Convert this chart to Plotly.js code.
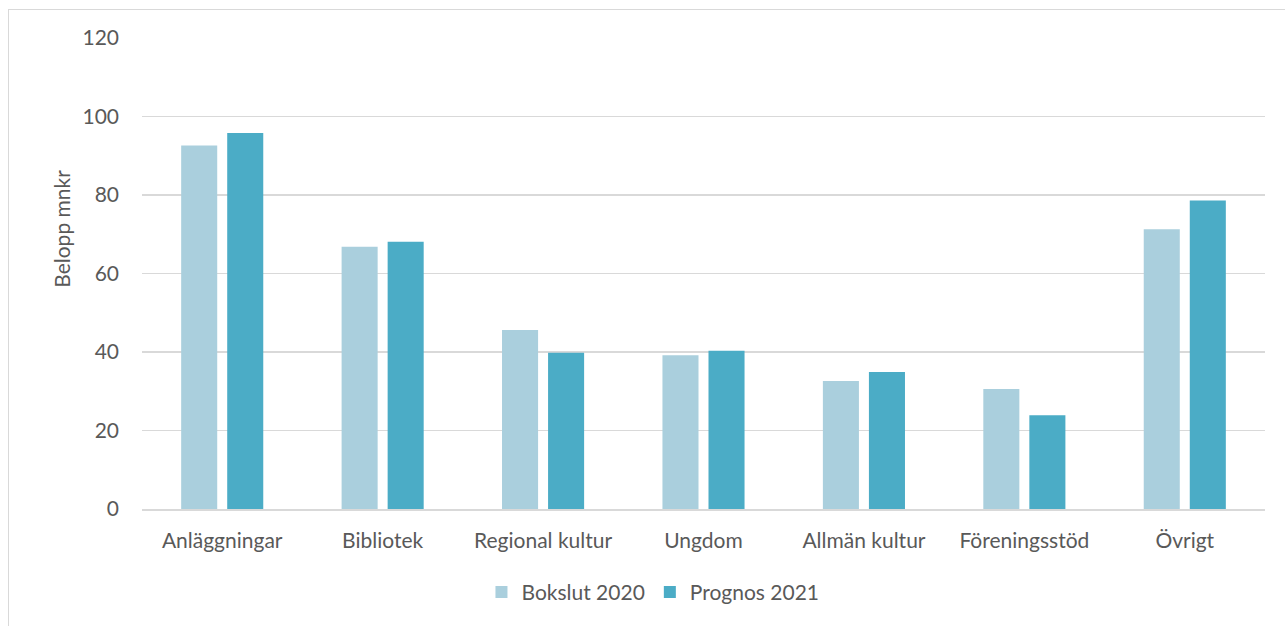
<!DOCTYPE html>
<html>
<head>
<meta charset="utf-8">
<script src="https://cdn.plot.ly/plotly-3.0.1.min.js"></script>
<style>
  html, body { margin: 0; padding: 0; background: #ffffff; overflow: hidden; }
  #frame { position: absolute; left: 8px; top: 9px; width: 1400px; height: 800px;
           border-left: 1.5px solid #d9d9d9; border-top: 1.5px solid #d9d9d9; }
  #chart { position: absolute; left: 0; top: 0; width: 1285px; height: 626px; }
</style>
</head>
<body>
<div id="frame"></div>
<div id="chart"></div>
<script>
const categories = ["Anläggningar", "Bibliotek", "Regional kultur", "Ungdom", "Allmän kultur", "Föreningsstöd", "Övrigt"];
const bokslut2020 = [92.6, 66.8, 45.6, 39.2, 32.6, 30.6, 71.3];
const prognos2021 = [95.8, 68.1, 39.8, 40.3, 34.9, 23.9, 78.6];
const seriesNames = ["Bokslut 2020", "Prognos 2021"];
const yTicks = [0, 20, 40, 60, 80, 100, 120];

const fontFam = "Lato, 'Open Sans', sans-serif";
const textColor = "#595959";

const traces = [
  { type: "bar", name: seriesNames[0], x: categories, y: bokslut2020,
    marker: { color: "#aacfdd" }, hoverinfo: "x+y+name" },
  { type: "bar", name: seriesNames[1], x: categories, y: prognos2021,
    marker: { color: "#4bacc6" }, hoverinfo: "x+y+name" }
];

const layout = {
  width: 1285, height: 626,
  margin: { l: 142, r: 20, t: 38, b: 117 },
  paper_bgcolor: "rgba(0,0,0,0)",
  plot_bgcolor: "rgba(0,0,0,0)",
  font: { family: fontFam, size: 21, color: textColor },
  barmode: "group",
  bargap: 0.426,
  bargroupgap: 0.217,
  showlegend: true,
  legend: { orientation: "h", x: 0.455, xanchor: "center", y: -0.1335, yanchor: "top",
            itemwidth: 30, tracegroupgap: 0,
            font: { family: fontFam, size: 21, color: textColor } },
  xaxis: {
    type: "category",
    showgrid: false, showline: true, linecolor: "#d9d9d9", linewidth: 1.5,
    ticks: "", ticklabelstandoff: 12,
    tickfont: { family: fontFam, size: 21, color: textColor },
    fixedrange: true
  },
  yaxis: {
    range: [0, 120], tickvals: yTicks, ticktext: yTicks.map(String),
    showgrid: true, gridcolor: "#d9d9d9", gridwidth: 1.5,
    zeroline: false, showline: false, ticks: "", ticklabelstandoff: 22,
    tickfont: { family: fontFam, size: 21, color: textColor },
    fixedrange: true
  },
  annotations: [
    { text: "Belopp mnkr", xref: "paper", yref: "paper", x: 0, xshift: -80, y: 0.595,
      xanchor: "center", yanchor: "middle", textangle: -90, showarrow: false,
      font: { family: fontFam, size: 21, color: textColor } }
  ]
};

Plotly.newPlot("chart", traces, layout, { displayModeBar: false, staticPlot: true });
</script>
</body>
</html>
